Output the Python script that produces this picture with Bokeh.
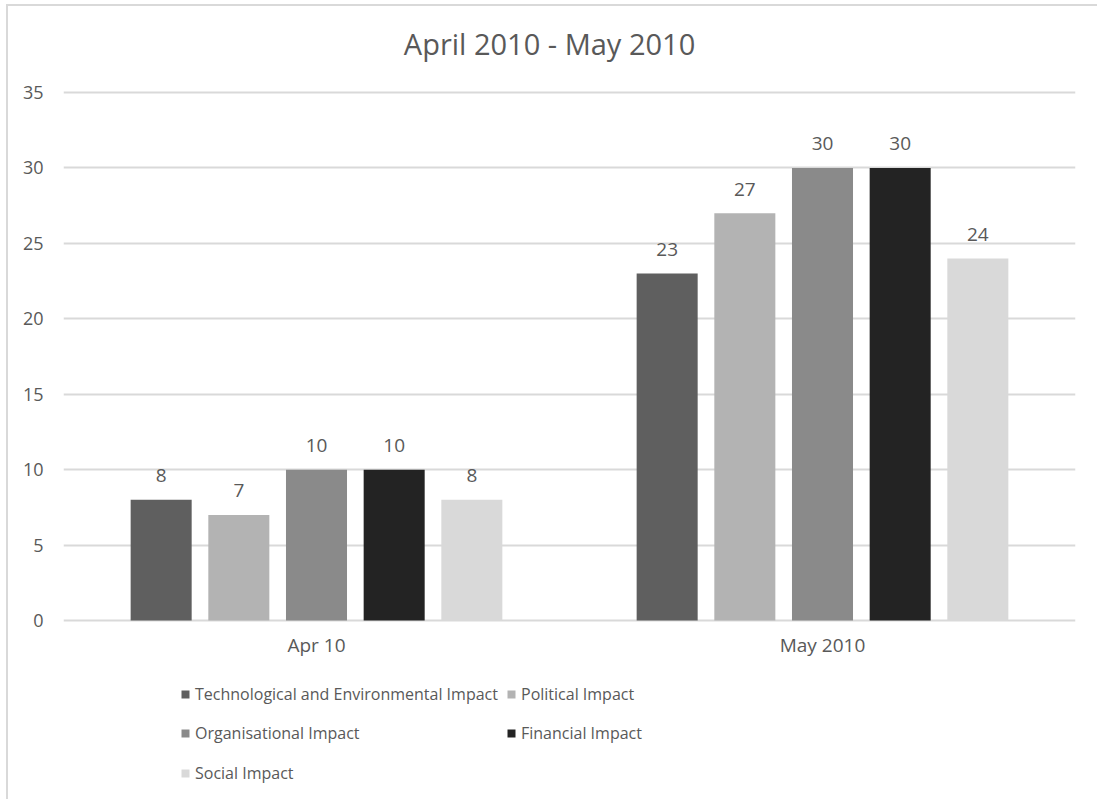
from bokeh.plotting import figure
from bokeh.models import ColumnDataSource, FactorRange, Range1d, Legend, LegendItem, FixedTicker, Label
from bokeh.transform import dodge
from bokeh.core.properties import value
from bokeh.embed import file_html
from bokeh.resources import INLINE

# Reporting periods and the impact series shown for each
periods = ["Apr 10", "May 2010"]
series = [
    "Technological and Environmental Impact",
    "Political Impact",
    "Organisational Impact",
    "Financial Impact",
    "Social Impact",
]
technological = [8, 23]
political = [7, 27]
organisational = [10, 30]
financial = [10, 30]
social = [8, 24]
y_ticks = [0, 5, 10, 15, 20, 25, 30, 35]
chart_title = "April 2010 - May 2010"

colors = ["#5f5f5f", "#b3b3b3", "#8a8a8a", "#232323", "#d9d9d9"]
FONT = "Open Sans"
TEXT = "#595959"

# vertical scale: 35 units span 528 px; the frame covers the whole canvas height
# so that title, category labels and legend all sit inside it
PX = 528 / 35
ABOVE_ZERO_PX, BELOW_ZERO_PX = 614, 181

source = ColumnDataSource(dict(
    period=periods,
    zero=[0] * len(periods),
    s0=technological, s1=political, s2=organisational, s3=financial, s4=social,
    l0=[str(v) for v in technological], l1=[str(v) for v in political],
    l2=[str(v) for v in organisational], l3=[str(v) for v in financial],
    l4=[str(v) for v in social],
))

p = figure(
    width=1091, height=795,
    x_range=FactorRange(*periods, range_padding=0),
    y_range=Range1d(-BELOW_ZERO_PX / PX, ABOVE_ZERO_PX / PX),
    output_backend="svg", toolbar_location=None,
    min_border_left=55, min_border_right=24,
    min_border_top=0, min_border_bottom=0,
)
p.styles = {
    "border-top": "2px solid #d9d9d9",
    "border-left": "2px solid #d9d9d9",
    "margin-left": "6px",
    "margin-top": "4px",
}
p.outline_line_color = None
p.background_fill_color = "white"
p.border_fill_color = "white"

# chart title, centred over the whole chart area
p.add_layout(Label(
    x=0.9605, y=577 / PX, text=chart_title, text_align="center", text_baseline="middle",
    text_font=FONT, text_font_size="29px", text_color=TEXT,
))

pitch = 0.1535
bar_w = 0.1206
items = []
for i, name in enumerate(series):
    off = (i - 2) * pitch
    r = p.vbar(x=dodge("period", off, range=p.x_range), top=f"s{i}", width=bar_w,
               source=source, fill_color=colors[i], line_color=None)
    items.append(LegendItem(label=name, renderers=[r]))
    p.text(x=dodge("period", off, range=p.x_range), y=f"s{i}", text=f"l{i}",
           source=source, text_align="center", text_baseline="alphabetic",
           y_offset=-24, text_font=value(FONT), text_font_size="19px",
           text_color=TEXT)

# category labels under the baseline
p.text(x="period", y="zero", text="period", source=source,
       text_align="center", text_baseline="middle", y_offset=24,
       text_font=value(FONT), text_font_size="19px", text_color=TEXT)

# y axis: labels only
p.yaxis.ticker = FixedTicker(ticks=y_ticks)
p.yaxis.axis_line_color = None
p.yaxis.major_tick_line_color = None
p.yaxis.minor_tick_line_color = None
p.yaxis.major_label_standoff = 14
p.yaxis.major_label_text_font = FONT
p.yaxis.major_label_text_font_size = "18px"
p.yaxis.major_label_text_color = TEXT

p.xaxis.visible = False
p.xgrid.grid_line_color = None
p.ygrid.grid_line_color = "#d9d9d9"
p.ygrid.grid_line_width = 2
p.ygrid.ticker = FixedTicker(ticks=y_ticks)

# legend: three rows of at most two entries, columns kept aligned by a fixed label width
for row, ypos in ((items[0:2], 96), (items[2:4], 57), (items[4:5], 17)):
    leg = Legend(
        items=row, location=(117, ypos), orientation="horizontal",
        glyph_width=10, glyph_height=10, label_standoff=5,
        label_text_font=FONT, label_text_font_size="16px", label_text_color=TEXT,
        label_height=20, label_width=311, spacing=0, padding=0, margin=0,
        border_line_color=None, background_fill_alpha=0,
    )
    p.add_layout(leg, "center")

open("out.html", "w").write(file_html(p, INLINE))
